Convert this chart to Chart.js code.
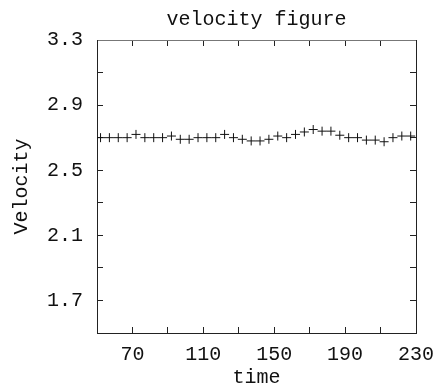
<!DOCTYPE html>
<html lang="en">

<head>
    <meta charset="utf8" />
    <script src="https://cdnjs.cloudflare.com/ajax/libs/Chart.js/4.4.1/chart.umd.min.js"></script>
    <title>velocity figure</title>
    <style>
        html, body { margin: 0; padding: 0; background: #fff; }
        #wrap { width: 433px; height: 390px; }
    </style>
</head>

<body>
    <div id="wrap"><canvas id="velocityChart" width="433" height="390"></canvas></div>

    <script>
        // sample times and measured velocity
        const times = [52, 57, 62, 67, 72, 77, 82, 87, 92, 97, 102, 107, 112, 117, 122, 127, 132, 137,
            142, 147, 152, 157, 162, 167, 172, 177, 182, 187, 192, 197, 202, 207, 212, 217, 222, 227];
        const velocity = [2.70, 2.70, 2.70, 2.70, 2.72, 2.70, 2.70, 2.70, 2.71, 2.69, 2.69, 2.70,
            2.70, 2.70, 2.72, 2.70, 2.69, 2.68, 2.68, 2.69, 2.71, 2.70, 2.72, 2.735,
            2.75, 2.74, 2.74, 2.715, 2.70, 2.70, 2.685, 2.685, 2.675, 2.70, 2.71, 2.71];

        // axis ticks (every other one is labelled)
        const xTickValues = [70, 90, 110, 130, 150, 170, 190, 210, 230];
        const xTickLabels = ['70', '', '110', '', '150', '', '190', '', '230'];
        const yTickValues = [1.7, 1.9, 2.1, 2.3, 2.5, 2.7, 2.9, 3.1, 3.3];
        const yTickLabels = ['1.7', '', '2.1', '', '2.5', '', '2.9', '', '3.3'];

        const FONT = '"Liberation Mono", "DejaVu Sans Mono", monospace';

        function setTicks(values) {
            return scale => { scale.ticks = values.map(v => ({ value: v })); };
        }

        function fixSize(size) {
            return scale => {
                if (scale.isHorizontal()) scale.height = size; else scale.width = size;
                scale.paddingLeft = scale.paddingRight = scale.paddingTop = scale.paddingBottom = 0;
            };
        }

        // inward tick marks: a negative tickLength draws them inside the box
        const boxGrid = { drawOnChartArea: false, color: '#222', tickLength: -6, lineWidth: 1 };
        const boxBorder = { display: true, color: '#222', width: 1 };

        new Chart(document.getElementById('velocityChart'), {
            type: 'scatter',
            data: {
                datasets: [{
                    data: times.map((t, i) => ({ x: t, y: velocity[i] })),
                    pointStyle: 'cross',
                    pointRadius: 4.5,
                    pointHoverRadius: 4.5,
                    borderColor: '#111',
                    borderWidth: 1,
                    showLine: false
                }]
            },
            options: {
                responsive: false,
                animation: false,
                layout: { padding: 0 },
                plugins: { legend: { display: false }, tooltip: { enabled: false } },
                scales: {
                    x: {
                        type: 'linear', position: 'bottom', min: 50, max: 230,
                        grid: boxGrid, border: boxBorder,
                        afterBuildTicks: setTicks(xTickValues),
                        afterFit: fixSize(57),
                        ticks: {
                            autoSkip: false, maxRotation: 0, padding: 16, color: '#111',
                            font: { family: FONT, size: 20 },
                            callback: (v, i) => xTickLabels[i]
                        },
                        title: {
                            display: true, text: 'time', color: '#111',
                            font: { family: FONT, size: 20 }, padding: { top: 0, bottom: 0 }
                        }
                    },
                    x2: {
                        type: 'linear', position: 'top', min: 50, max: 230,
                        grid: boxGrid, border: { display: true, color: '#777', width: 1 },
                        afterBuildTicks: setTicks(xTickValues),
                        afterFit: fixSize(40),
                        ticks: { display: false },
                        title: {
                            display: true, text: 'velocity figure', color: '#111',
                            font: { family: FONT, size: 20 }, padding: { top: 8, bottom: 0 }
                        }
                    },
                    y: {
                        type: 'linear', position: 'left', min: 1.5, max: 3.3,
                        grid: boxGrid, border: boxBorder,
                        afterBuildTicks: setTicks(yTickValues),
                        afterFit: fixSize(97),
                        ticks: {
                            autoSkip: false, padding: 20, color: '#111',
                            font: { family: FONT, size: 20 },
                            callback: (v, i) => yTickLabels[i]
                        },
                        title: {
                            display: true, text: 'Velocity', color: '#111',
                            font: { family: FONT, size: 20 }, padding: { top: 10, bottom: 0 }
                        }
                    },
                    y2: {
                        type: 'linear', position: 'right', min: 1.5, max: 3.3,
                        grid: boxGrid, border: boxBorder,
                        afterBuildTicks: setTicks(yTickValues),
                        afterFit: fixSize(17),
                        ticks: { display: false }
                    }
                }
            }
        });
    </script>
</body>

</html>
